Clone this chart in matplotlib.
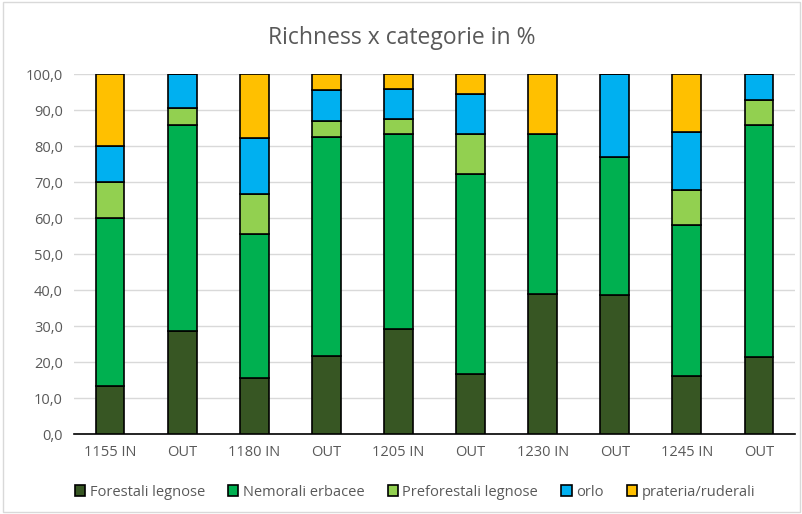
import numpy as np
import matplotlib.pyplot as plt
from matplotlib.patches import Rectangle

# categories (x axis)
sites = ['1155 IN', 'OUT', '1180 IN', 'OUT', '1205 IN', 'OUT', '1230 IN', 'OUT', '1245 IN', 'OUT']

# percentages per group
forestali = [13.3, 28.6, 15.6, 21.7, 29.2, 16.7, 38.9, 38.5, 16.1, 21.4]
nemorali = [46.7, 57.1, 40.0, 60.9, 54.2, 55.6, 44.4, 38.5, 41.9, 64.3]
preforestali = [10.0, 4.8, 11.1, 4.3, 4.2, 11.1, 0.0, 0.0, 9.7, 7.1]
orlo = [10.0, 9.5, 15.6, 8.7, 8.3, 11.1, 0.0, 23.1, 16.1, 7.1]
prateria = [20.0, 0.0, 17.8, 4.3, 4.2, 5.6, 16.7, 0.0, 16.1, 0.0]

labels = ['Forestali legnose', 'Nemorali erbacee', 'Preforestali legnose', 'orlo', 'prateria/ruderali']
colors = ['#375623', '#00B050', '#92D050', '#00B0F0', '#FFC000']

plt.rcParams['font.family'] = ['Open Sans', 'DejaVu Sans']

fig = plt.figure(figsize=(8.03, 5.14), dpi=100)
ax = fig.add_axes([74 / 803, 1 - 434 / 514, 721 / 803, 360 / 514])

x = np.arange(len(sites))
bottom = np.zeros(len(sites))
for vals, lab, col in zip([forestali, nemorali, preforestali, orlo, prateria], labels, colors):
    vals = np.array(vals)
    ax.bar(x, vals, 0.4, bottom=bottom, color=col, edgecolor='black', linewidth=1.2,
           label=lab, zorder=3)
    bottom += vals

ax.set_xlim(-0.5, len(sites) - 0.5)
ax.set_ylim(0, 100)
ax.set_yticks(np.arange(0, 101, 10))
ax.set_yticklabels([f'{v},0' for v in range(0, 101, 10)])
ax.set_xticks(x)
ax.set_xticklabels(sites)
ax.tick_params(axis='both', length=0, labelsize=10.5, colors='#595959', pad=8)
ax.grid(axis='y', color='#D9D9D9', linewidth=1, zorder=0)
for s in ['top', 'right', 'left']:
    ax.spines[s].set_visible(False)
ax.spines['bottom'].set_color('black')
ax.spines['bottom'].set_linewidth(1.2)

fig.text(0.5, 1 - 38 / 514, 'Richness x categorie in %', ha='center', va='center',
         fontsize=16.5, color='#595959')

ax.legend(loc='center', bbox_to_anchor=(415 / 803, 1 - 492 / 514), bbox_transform=fig.transFigure,
          ncol=5, frameon=False, fontsize=10.5, labelcolor='#595959',
          handlelength=0.7, handleheight=0.7, handletextpad=0.3, columnspacing=1.6)

fig.patches.append(Rectangle((0.004, 0.004), 0.992, 0.992, transform=fig.transFigure,
                             fill=False, edgecolor='#D9D9D9', linewidth=1))

fig.savefig('out.png', dpi=100)
